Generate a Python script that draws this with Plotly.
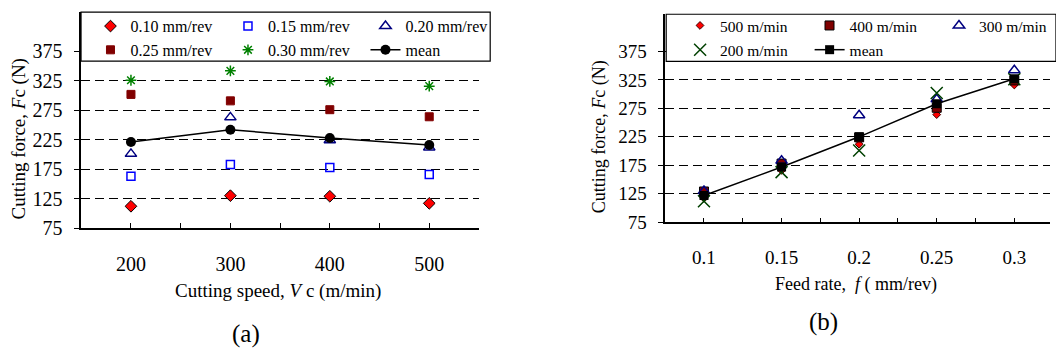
import plotly.graph_objects as go

# ---------------- data ----------------
# Panel (a): cutting force vs cutting speed, one series per feed rate
speeds = [200, 300, 400, 500]
f010 = [112, 130, 129, 117]
f015 = [163, 183, 178, 166]
f020 = [201, 263, 224, 212]
f025 = [302, 291, 276, 264]
f030 = [326, 342, 324, 316]
mean_a = [221, 242, 228, 216]

# Panel (b): cutting force vs feed rate, one series per cutting speed
feeds = [0.1, 0.15, 0.2, 0.25, 0.3]
feed_labels = ["0.1", "0.15", "0.2", "0.25", "0.3"]
v500 = [117, 166, 212, 264, 316]
v400 = [129, 178, 224, 276, 324]
v300 = [130, 183, 263, 291, 342]
v200 = [112, 163, 201, 302, 326]
mean_b = [122, 172, 225, 283, 327]

y_ticks = [75, 125, 175, 225, 275, 325, 375]

W, H = 1056, 358
FONT = "Liberation Serif"


def px(x):
    return x / W


def py(y):
    return 1 - y / H


fig = go.Figure()

# ---- panel (a) traces ----
fig.add_trace(go.Scatter(x=speeds, y=f010, mode="markers", name="0.10 mm/rev",
                         marker=dict(symbol="diamond", size=9, color="#FF0000",
                                     line=dict(color="black", width=1)),
                         xaxis="x", yaxis="y", legend="legend"))
fig.add_trace(go.Scatter(x=speeds, y=f015, mode="markers", name="0.15 mm/rev",
                         marker=dict(symbol="square-open", size=8, color="#0000FF",
                                     line=dict(color="#0000FF", width=1.5)),
                         xaxis="x", yaxis="y", legend="legend"))
fig.add_trace(go.Scatter(x=speeds, y=f020, mode="markers", name="0.20 mm/rev",
                         marker=dict(symbol="triangle-up-open", size=10, color="#000080",
                                     line=dict(color="#000080", width=1.5)),
                         xaxis="x", yaxis="y", legend="legend"))
fig.add_trace(go.Scatter(x=speeds, y=f025, mode="markers", name="0.25 mm/rev",
                         marker=dict(symbol="square", size=8, color="#800000",
                                     line=dict(color="#800000", width=1)),
                         xaxis="x", yaxis="y", legend="legend3"))
fig.add_trace(go.Scatter(x=speeds, y=f030, mode="markers", name="0.30 mm/rev",
                         marker=dict(symbol="asterisk-open", size=9, color="#008000",
                                     line=dict(color="#008000", width=1.5)),
                         xaxis="x", yaxis="y", legend="legend3"))
fig.add_trace(go.Scatter(x=speeds, y=mean_a, mode="lines+markers", name="mean",
                         line=dict(color="black", width=1.5),
                         marker=dict(symbol="circle", size=10, color="black"),
                         xaxis="x", yaxis="y", legend="legend3"))

# ---- panel (b) traces ----
fig.add_trace(go.Scatter(x=feeds, y=v500, mode="markers", name="500 m/min",
                         marker=dict(symbol="diamond", size=6, color="#FF0000",
                                     line=dict(color="#400000", width=1)),
                         xaxis="x2", yaxis="y2", legend="legend2"))
fig.add_trace(go.Scatter(x=feeds, y=v400, mode="markers", name="400 m/min",
                         marker=dict(symbol="square", size=9, color="#800000",
                                     line=dict(color="black", width=1)),
                         xaxis="x2", yaxis="y2", legend="legend2"))
fig.add_trace(go.Scatter(x=feeds, y=v300, mode="markers", name="300 m/min",
                         marker=dict(symbol="triangle-up-open", size=10, color="#000080",
                                     line=dict(color="#000080", width=1.5)),
                         xaxis="x2", yaxis="y2", legend="legend2", legendwidth=72))
fig.add_trace(go.Scatter(x=feeds, y=v200, mode="markers", name="200 m/min",
                         marker=dict(symbol="x-thin-open", size=12, color="#004000",
                                     line=dict(color="#004000", width=1.5)),
                         xaxis="x2", yaxis="y2", legend="legend4"))
fig.add_trace(go.Scatter(x=feeds, y=mean_b, mode="lines+markers", name="mean",
                         line=dict(color="black", width=1.5),
                         marker=dict(symbol="square", size=9, color="black"),
                         xaxis="x2", yaxis="y2", legend="legend4"))

axis_font = dict(family=FONT, size=20, color="black")
grid = dict(showgrid=True, gridcolor="#000000", gridwidth=1, griddash="9px,5px")

fig.update_layout(
    width=W, height=H,
    margin=dict(l=0, r=0, t=0, b=0),
    paper_bgcolor="white", plot_bgcolor="white",
    font=dict(family=FONT, color="black"),
    xaxis=dict(domain=[px(81.7), px(481.7)], range=[150, 550],
               tickmode="array", tickvals=speeds, ticktext=[str(s) for s in speeds],
               ticks="inside", ticklen=5, tickcolor="black", tickwidth=1,
               minor=dict(tick0=150, dtick=50, ticks="inside", ticklen=5,
                          tickcolor="black", showgrid=False),
               showline=True, linecolor="black", linewidth=1.5,
               showgrid=False, zeroline=False, tickfont=axis_font,
               ticklabelstandoff=17, anchor="y"),
    yaxis=dict(domain=[py(235.3), py(12.5)], range=[75, 441.7],
               tickmode="array", tickvals=y_ticks,
               ticks="outside", ticklen=5, tickcolor="black", tickwidth=1,
               showline=True, linecolor="black", linewidth=1.5,
               zeroline=False, tickfont=axis_font, ticklabelstandoff=8,
               anchor="x", **grid),
    xaxis2=dict(domain=[px(669), 1.0], range=[0.075, 0.323],
                tickmode="array", tickvals=feeds, ticktext=feed_labels,
                ticks="inside", ticklen=5, tickcolor="black", tickwidth=1,
                minor=dict(tick0=0.075, dtick=0.025, ticks="inside", ticklen=5,
                           tickcolor="black", showgrid=False),
                showline=True, linecolor="black", linewidth=1.5,
                showgrid=False, zeroline=False,
                tickfont=dict(family=FONT, size=19, color="black"),
                ticklabelstandoff=17, anchor="y2"),
    yaxis2=dict(domain=[py(229.3), py(14.7)], range=[75, 440.2],
                tickmode="array", tickvals=y_ticks,
                ticks="outside", ticklen=5, tickcolor="black", tickwidth=1,
                showline=True, linecolor="black", linewidth=1.5,
                zeroline=False, tickfont=dict(family=FONT, size=19, color="black"),
                ticklabelstandoff=8, anchor="x2", **grid),
)

leg_common = dict(orientation="h", xanchor="left", yanchor="middle",
                  bgcolor="rgba(0,0,0,0)", borderwidth=0, itemclick=False,
                  itemdoubleclick=False, entrywidthmode="pixels")
fig.update_layout(
    legend=dict(x=px(91), y=py(27), entrywidth=92.5,
                font=dict(family=FONT, size=16, color="black"), **leg_common),
    legend3=dict(x=px(91), y=py(51.5), entrywidth=92.5,
                 font=dict(family=FONT, size=16, color="black"), **leg_common),
    legend2=dict(x=px(684), y=py(26.7), entrywidth=84.5,
                 font=dict(family=FONT, size=15.5, color="black"), **leg_common),
    legend4=dict(x=px(684), y=py(51.7), entrywidth=84.5,
                 font=dict(family=FONT, size=15.5, color="black"), **leg_common),
)

# legend boxes
fig.add_shape(type="rect", xref="paper", yref="paper",
              x0=px(81.5), x1=px(493), y0=py(63), y1=py(12.5),
              fillcolor="white", line=dict(color="black", width=1.2), layer="above")
fig.add_shape(type="rect", xref="paper", yref="paper",
              x0=px(670), x1=px(1062), y0=py(63.3), y1=py(14.7),
              fillcolor="white", line=dict(color="black", width=1.2), layer="above")

# axis titles and panel labels
ann = [
    dict(text="Cutting force, <i>F</i>c (N)", x=px(19), y=py(143), textangle=-90,
         font=dict(family=FONT, size=19, color="black")),
    dict(text="Cutting speed, <i>V</i> c (m/min)", x=px(280), y=py(300),
         font=dict(family=FONT, size=19, color="black")),
    dict(text="(a)", x=px(247), y=py(345), font=dict(family=FONT, size=25, color="black")),
    dict(text="Cutting force, <i>F</i>c (N)", x=px(603), y=py(141), textangle=-90,
         font=dict(family=FONT, size=18, color="black")),
    dict(text="Feed rate,  <i>f</i> ( mm/rev)", x=px(861), y=py(294),
         font=dict(family=FONT, size=18, color="black")),
    dict(text="(b)", x=px(828), y=py(332), font=dict(family=FONT, size=25, color="black")),
]
for a in ann:
    fig.add_annotation(xref="paper", yref="paper", showarrow=False,
                       xanchor="center", yanchor="middle", **a)

fig.write_html("out.html")
